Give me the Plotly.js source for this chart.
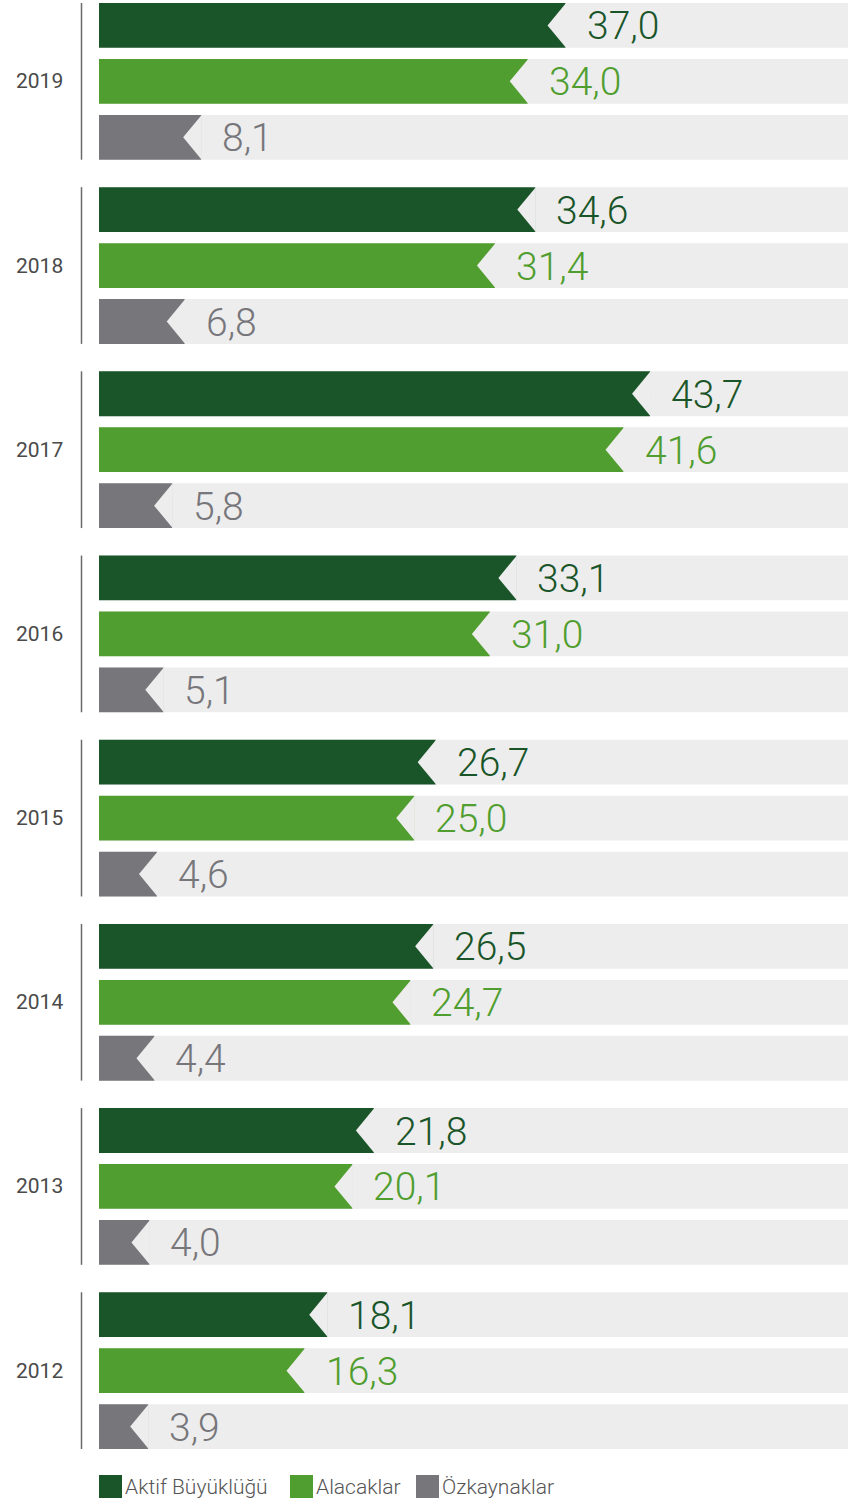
<!DOCTYPE html>
<html>
<head>
<meta charset="utf-8">
<script src="https://cdn.plot.ly/plotly-3.0.1.min.js"></script>
<style>html,body{margin:0;padding:0;background:#fff;}#chart{width:854px;height:1501px;}</style>
</head>
<body>
<div id="chart"></div>
<script>
// ---- data ----
var years = ['2019','2018','2017','2016','2015','2014','2013','2012'];
var aktif = [37.0, 34.6, 43.7, 33.1, 26.7, 26.5, 21.8, 18.1];
var alacak = [34.0, 31.4, 41.6, 31.0, 25.0, 24.7, 20.1, 16.3];
var ozkay = [8.1, 6.8, 5.8, 5.1, 4.6, 4.4, 4.0, 3.9];
var seriesNames = ['Aktif Büyüklüğü', 'Alacaklar', 'Özkaynaklar'];

// ---- styling ----
var colors = ['#1a5529', '#509e2f', '#77767b'];
var bgColor = '#ededed';
var font = 'Roboto, "Open Sans", sans-serif';
var XMAX = 59.4;           // axis maximum (background bar length)
var G = 3.291;             // group spacing in row units
var BW = 0.8;              // bar thickness in row units
var NOTCH = 18;            // notch depth in px
var HALF = 22.4;           // half bar height in px

var series = [aktif, alacak, ozkay];
function yPos(g, r) { return -(g * G + r); }
function fmt(v) { return v.toFixed(1).replace('.', ','); }

var traces = [];
// background bars
var bgY = [], bgX = [];
years.forEach(function (y, g) { for (var r = 0; r < 3; r++) { bgY.push(yPos(g, r)); bgX.push(XMAX); } });
traces.push({type: 'bar', orientation: 'h', x: bgX, y: bgY, width: BW,
  marker: {color: bgColor, line: {width: 0}}, hoverinfo: 'skip', showlegend: false});

var shapes = [], annotations = [];
series.forEach(function (vals, r) {
  var ys = years.map(function (_, g) { return yPos(g, r); });
  traces.push({type: 'bar', orientation: 'h', name: seriesNames[r], x: vals, y: ys, width: BW,
    marker: {color: colors[r], line: {width: 0}}, showlegend: false,
    hovertemplate: '%{x}<extra>' + seriesNames[r] + '</extra>'});
  vals.forEach(function (v, g) {
    // chevron notch at bar end
    shapes.push({type: 'path', xref: 'x', yref: 'y', xsizemode: 'pixel', ysizemode: 'pixel',
      xanchor: v, yanchor: yPos(g, r),
      path: 'M0.5,' + HALF + ' L' + (-NOTCH) + ',0 L0.5,' + (-HALF) + ' Z',
      fillcolor: bgColor, line: {width: 0}, layer: 'above'});
    annotations.push({xref: 'x', yref: 'y', x: v, y: yPos(g, r), text: fmt(v),
      showarrow: false, xanchor: 'left', yanchor: 'middle', xshift: 19, yshift: -1,
      font: {family: font, size: 39, weight: 300, color: colors[r]}});
  });
});

// year labels and separators
var plotL = 99, plotW = 749, plotT = 3, plotH = 1446;
years.forEach(function (yr, g) {
  annotations.push({xref: 'paper', yref: 'y', x: (65 - plotL) / plotW, y: yPos(g, 1), text: yr,
    showarrow: false, xanchor: 'right', yanchor: 'middle',
    font: {family: font, size: 21, weight: 400, color: '#4a4a4a'}});
  shapes.push({type: 'line', xref: 'paper', yref: 'y', x0: (81.5 - plotL) / plotW, x1: (81.5 - plotL) / plotW,
    y0: yPos(g, 0) + BW / 2, y1: yPos(g, 2) - BW / 2, line: {color: '#6a6a6a', width: 1.5}});
});

// legend (manual, larger squares)
var legX = [99, 290, 416];
function px2paperX(p) { return (p - plotL) / plotW; }
function px2paperY(p) { return (plotT + plotH - p) / plotH; }
seriesNames.forEach(function (n, i) {
  shapes.push({type: 'rect', xref: 'paper', yref: 'paper',
    x0: px2paperX(legX[i]), x1: px2paperX(legX[i] + 23),
    y0: px2paperY(1475), y1: px2paperY(1498), fillcolor: colors[i], line: {width: 0}});
  annotations.push({xref: 'paper', yref: 'paper', x: px2paperX(legX[i] + 24), y: px2paperY(1487),
    text: n, showarrow: false, xanchor: 'left', yanchor: 'middle',
    font: {family: font, size: 21, weight: 300, color: '#555555'}});
});

var layout = {
  width: 854, height: 1501,
  margin: {l: plotL, r: 854 - plotL - plotW, t: plotT, b: 1501 - plotT - plotH, pad: 0},
  paper_bgcolor: '#ffffff', plot_bgcolor: '#ffffff',
  barmode: 'overlay', showlegend: false,
  xaxis: {range: [0, XMAX], visible: false, fixedrange: true},
  yaxis: {range: [-(7 * G + 2) - BW / 2, BW / 2], visible: false, fixedrange: true},
  shapes: shapes, annotations: annotations
};

Plotly.newPlot('chart', traces, layout, {displayModeBar: false, staticPlot: true});
</script>
</body>
</html>
